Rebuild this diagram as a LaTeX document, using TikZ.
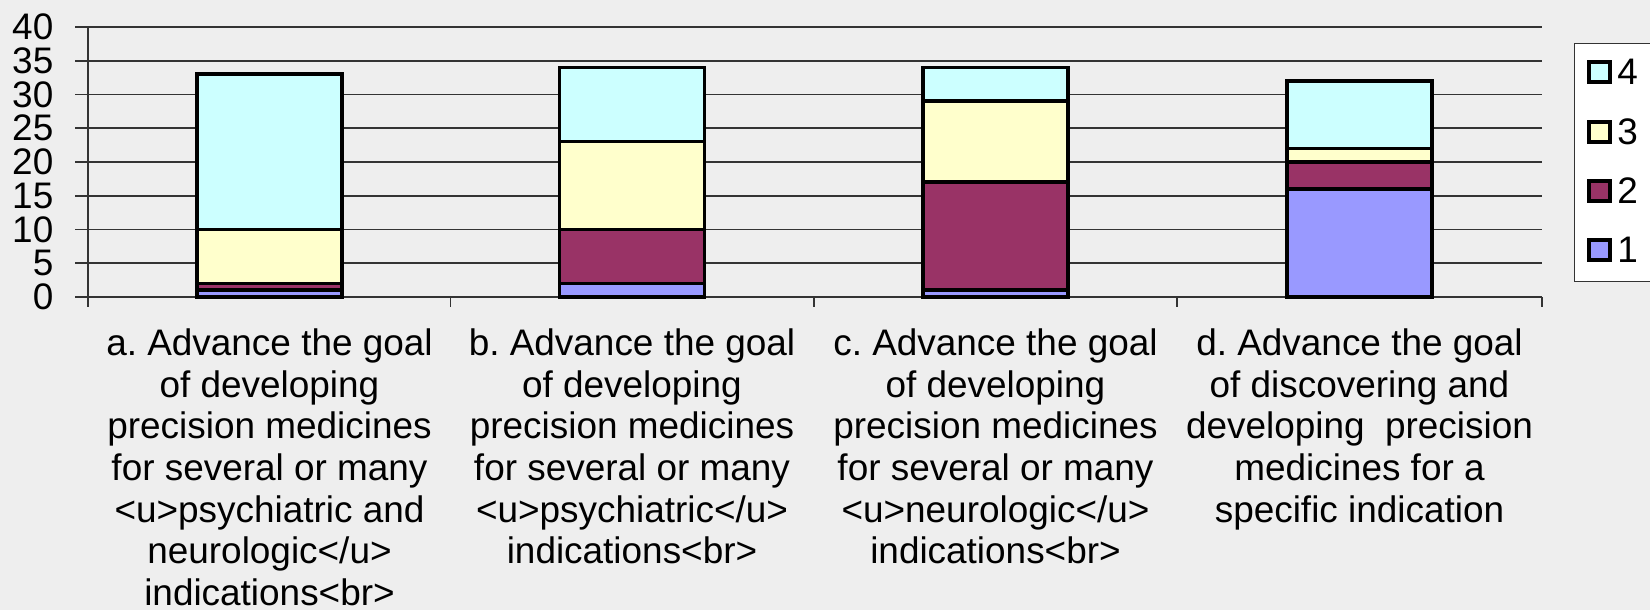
\documentclass[tikz,border=0pt]{standalone}
\usepackage{fontspec}
\setmainfont{Liberation Sans}
\usepackage{tikz}
\usetikzlibrary{positioning}
\usepackage{xcolor}
\definecolor{chartbg}{HTML}{EEEEEE}
\definecolor{gridgray}{HTML}{333333}
\definecolor{serone}{HTML}{9999FF}
\definecolor{sertwo}{HTML}{993366}
\definecolor{serthree}{HTML}{FFFFCC}
\definecolor{serfour}{HTML}{CCFFFF}
\frenchspacing

\begin{document}
\begin{tikzpicture}[
    x=0.01cm, y=-0.01cm,
    gridline/.style={draw=gridgray, line width=0.5pt},
    barseg/.style={draw=black, line width=1pt},
    ylabel/.style={anchor=east, inner sep=0pt, font=\fontsize{10.5pt}{11.86pt}\selectfont},
    catlabel/.style={anchor=north, inner sep=0pt, align=center, font=\fontsize{10.5pt}{11.86pt}\selectfont},
    legkey/.style={draw=black, line width=1pt, minimum width=0.21cm, minimum height=0.2cm, inner sep=0pt},
    legtext/.style={inner sep=0pt, font=\fontsize{10.5pt}{11.86pt}\selectfont}
]
    % Background
    \fill[chartbg] (0,0) rectangle (1650,610);
    \useasboundingbox (0,0) rectangle (1650,610);

    % Grid lines and y labels
    \foreach \v in {0,5,...,40}{
        \draw[gridline] (75,{297-6.75*\v}) -- (1542,{297-6.75*\v});
        \node[ylabel] (ylab\v) at (54,{297-6.75*\v}) {\v};
    }

    % Axes and category ticks
    \draw[gridline] (88,27) -- (88,307);
    \foreach \tx in {450.5,814,1177,1542}{
        \draw[gridline] (\tx,297) -- (\tx,307);
    }

    % Stacked bars
    \foreach \cx/\va/\vb/\vc/\vd in {269.5/1/1/8/23, 632/2/8/13/11, 995.5/1/16/12/5, 1359.5/16/4/2/10}{
        \pgfmathsetmacro{\ya}{\va}
        \pgfmathsetmacro{\yb}{\va+\vb}
        \pgfmathsetmacro{\yc}{\yb+\vc}
        \pgfmathsetmacro{\yd}{\yc+\vd}
        \draw[barseg, fill=serone] ({\cx-72.5},297) rectangle ({\cx+72.5},{297-6.75*\ya});
        \draw[barseg, fill=sertwo] ({\cx-72.5},{297-6.75*\ya}) rectangle ({\cx+72.5},{297-6.75*\yb});
        \draw[barseg, fill=serthree] ({\cx-72.5},{297-6.75*\yb}) rectangle ({\cx+72.5},{297-6.75*\yc});
        \draw[barseg, fill=serfour] ({\cx-72.5},{297-6.75*\yc}) rectangle ({\cx+72.5},{297-6.75*\yd});
    }

    % Category labels
    \node[catlabel] (cata) at (269.5,328) {a. Advance the goal\\of developing\\precision medicines\\for several or many\\<u>psychiatric and\\neurologic</u>\\indications<br>};
    \node[catlabel] (catb) at (632,328) {b. Advance the goal\\of developing\\precision medicines\\for several or many\\<u>psychiatric</u>\\indications<br>};
    \node[catlabel] (catc) at (995.5,328) {c. Advance the goal\\of developing\\precision medicines\\for several or many\\<u>neurologic</u>\\indications<br>};
    \node[catlabel] (catd) at (1359.5,328) {d. Advance the goal\\of discovering and\\developing\ \ precision\\medicines for a\\specific indication};

    % Legend
    \node[draw=gridgray, line width=0.35pt, fill=white, minimum width=0.765cm, minimum height=2.38cm, inner sep=0pt, anchor=north west] (legend) at (1573.5,43) {};
    \node[legkey, fill=serfour] (key4) at (1599.5,72) {};
    \node[legtext, right=0.05cm of key4] (leg4) {4};
    \node[legkey, fill=serthree] (key3) at (1599.5,132) {};
    \node[legtext, right=0.05cm of key3] (leg3) {3};
    \node[legkey, fill=sertwo] (key2) at (1599.5,191) {};
    \node[legtext, right=0.05cm of key2] (leg2) {2};
    \node[legkey, fill=serone] (key1) at (1599.5,250) {};
    \node[legtext, right=0.05cm of key1] (leg1) {1};
\end{tikzpicture}
\end{document}
